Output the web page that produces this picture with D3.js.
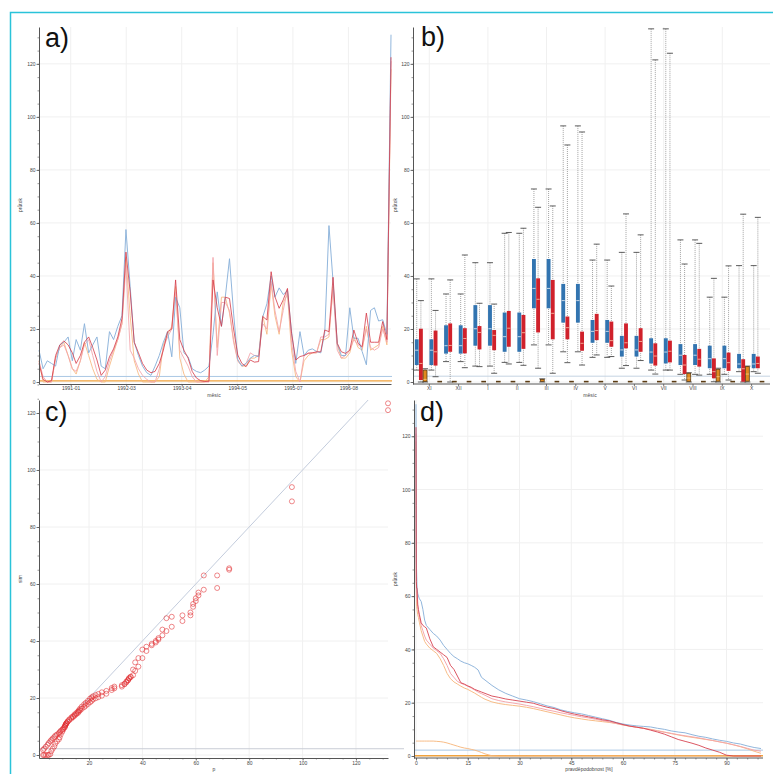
<!DOCTYPE html>
<html><head><meta charset="utf-8">
<script src="https://cdn.jsdelivr.net/npm/d3@7/dist/d3.min.js"></script>
<style>
html,body{margin:0;padding:0;background:#fff;}
svg{display:block;}
text{font-family:"Liberation Sans",Arial,sans-serif;}
</style></head><body>
<svg id="chart" width="773" height="774"></svg>
<script>
// ================= DATA =================
// panel a: monthly series starting 1990-06
const aStartMonth = "1990-06-01";
const aTickDates = ["1991-01-20","1992-03-03","1993-04-15","1994-05-28","1995-07-11","1996-08-22"];
const aObs = [12,5,8,7,6,14,15,17,8,16, 12,22,11,14,17,6,5,19,16,21, 25,57.5,36,15,10,6,3.5,2.5,6,10,
  15,19,9.5,32,28,11,9.5,5,4,3.5, 4.5,6,18,34,21,32,46.5,26,8.5,6, 7,9,10,9.5,24.5,29.5,40,32,35.5,33,
  34.5,19,7,19,10,12,12.5,11.5,11,18.5, 59,38,14.5,10,10,28,16.5,16.5,11.5,6.5, 27,28,23,23.5,18,131];
const aSim1 = [7,1,0,0.5,10,14,15.5,14,11,7, 10,15,17,13,8.3,2.5,4.5,9.5,12.5,17, 24,49,34,15,11,7,4.5,3.5,4,7,
  12,19,20,38.5,16,12,9,4,1.5,0.5, 0.2,0.3,38.5,28,21,32,31.5,20,10.2,7, 5.8,8.3,7.5,7.7,24.7,23.4,41.6,32.2,27.8,31,
  35.3,18.4,8.3,9.6,10,10.8,11,11.4,11.4,19.6, 19,39.5,14.6,11.4,10.8,12,19.6,14.6,13.3,26, 15,15,15,22.8,16,122.5];
const aSim2 = [8,2,0,0,9,13,14,10,5,4, 8,14,16,10,4,0,2,8,12,16, 22,44,12,9,5,2.5,1,0,0,5,
  13,17,20,34,12,9,6,2,0,0, 0,0,47,10,30,30,27,15,8,6, 7,11,10,10,22,20,38,27,19,27,
  35,15,4,0,10,11,11,11,17,17, 18,35,12,9,10,12,16,14,13,20, 13,12,13,20,15,121];
const aSim3 = [8,0,0,0,9,13,15,10,5,3, 8,15,10,5,1,0,0,6,11,16, 22,47,25,8,3,0,0,0,0,2,
  14,18,21,36,9,3,0,0,0,0, 0,2,45,13,32,32,26,16,8,6, 6,9,9,10,25,18,37,25,18,30,
  33,12,2,0,8,10,11,11,16,16, 17,36,14,9,9,11,17,13,12,21, 12,13,14,21,14,118];
const refLevel = 2.1;
const lowLevel = 0.4;

// panel b: box statistics [low whisker, q1, median, q3, high whisker]
const bMonths = ["XI","XII","I","II","III","IV","V","VI","VII","VIII","IX","X"];
const bObs = [[4.5,6.4,12,16.1,38.9],[7.7,10.7,13.7,21.4,33.2],[6,13.7,20.1,29,45],[7.4,11.4,17.1,26.2,56.1],
  [14,27.8,35.3,46.4,72.8],[11.4,22.4,30.7,37,96.6],[9.3,14.8,19.1,23.4,46],[5.2,9.6,12.1,17.4,48.9],
  [4.5,7,11.3,16.5,133.2],[2.9,6.4,10.1,14.3,53.6],[2.9,5.2,8.8,13.7,32],[3.9,5.2,6.8,10.6,43.9]];
const bSim1 = [[0,0.75,7,20.1,30.7],[0,11.4,13.8,22.1,38.5],[5.8,12.3,18.7,21.1,29.7],[6.8,13.3,20.3,26.8,56.4],
  [5.2,18.7,31.2,39.1,65.9],[7.3,16.1,20.5,24.7,89.4],[10.2,15.8,19.4,25.7,52],[6.2,12.7,14.8,22.1,63.4],
  [3,6.2,9.8,14.6,121.5],[0.75,3,6.4,10.2,44.5],[0.1,1.4,3.9,8.9,39.1],[0,0.1,5,8.6,63.3]];
const bSim2 = [[2,6.2,11.4,19.4,27],[5.4,10.8,16.4,20.3,47.9],[3.3,12,17.6,19.6,29.4],[6.3,12.5,18.6,25.3,58],
  [3.3,16.1,25.9,38.5,66.4],[6.4,11.8,14.6,19,94.3],[9.6,13.3,15.6,22.8,36.2],[8.1,11.4,15.3,20.3,55.5],
  [4.5,7.4,11.6,15.6,124],[2.6,5.8,8.6,12.5,52.3],[0.75,4.2,7.3,11.1,43.8],[3.3,5.2,7,9.6,62.1]];
const bLow1 = [[0,0.2,1,4.5,5],[0,0,0,0.3,0.5],[0,0,0,0.3,0.5],[0,0,0,0.3,0.5],[0,0.2,0.5,1,1.2],[0,0,0,0.3,0.5],
  [0,0,0,0.3,0.5],[0,0,0,0.3,0.5],[0,0,0,0.3,0.5],[0,0.2,1.5,3.3,3.5],[0,0.3,2,4.8,5.2],[0,0.3,3,5.8,6]];
const bLow2 = [[0,0,0,0.3,0.5],[0,0,0,0.3,0.5],[0,0,0,0.3,0.5],[0,0,0,0.3,0.5],[0,0,0,0.3,0.5],[0,0,0,0.3,0.5],
  [0,0,0,0.3,0.5],[0,0,0,0.3,0.5],[0,0,0,0.3,0.5],[0,0,0,0.3,0.5],[0,0,0,0.3,0.5],[0,0,0,0.3,0.5]];

// panel d: duration curves (exceedance probability %, value); panel c uses the same quantiles
const dProb = [0,0.05,0.1,0.2,0.3,0.5,0.7,1,1.5,2, 2.5,3,4,5,6,7,8,9,10,11, 12,13,14,15,16,17,18,19,20,22,
  24,26,28,30,32,34,36,38,40,42, 44,46,48,50,52,54,56,58,60,62, 64,66,68,70,72,74,76,78,80,82, 84,86,88,90,92,94,96,98,100];
const dObs = [132,96,72.5,68,63,61,60,59,58,55, 51,49,47.5,46,45,43.5,41.5,40,38.5,37.3, 36.5,35.6,35,34.6,34,33.3,32.3,29.5,28.5,26.5,
  24.8,23.5,22.5,21.5,21,20.4,19.6,18.8,18.2,17.3, 16.7,16.2,15.8,15.2,14.6,14,13.4,12.6,12,11.6, 11.3,11.1,10.9,10.4,10,9.4,9,8.7,8,7.4, 7,6.4,5.9,5.5,4.9,4.5,3.8,3.2,2.8];
const dSim1 = [123.4,94,65.5,63,63,57,55,53,50,49, 48.5,48,44,41,40,39,38,37,34,32.5, 30,27.5,27,26.3,25.8,25,24.5,24,23.5,22.5,
  22,21.4,21,20.6,20.2,19.8,19,18.3,17.8,17, 16.3,15.7,15.2,14.7,14.2,13.6,13.2,12.5,11.8,11.2, 10.8,10.4,9.7,9,8.2,7.2,6.2,5.5,4.8,4, 3,2.2,1.4,0.3,0,0,0,0,0];
const dSim2 = [121,89,65,58.6,58,56,54,52,49,47, 45,43.5,42,40.5,39.5,38.5,36.5,34,31,29.5, 28,27.3,26.8,26.2,25.5,24.8,24,23.4,22.8,21.5,
  20.8,20.3,19.9,19.5,19,18.5,17.9,17.3,16.8,16.2, 15.7,15.2,14.7,14.3,13.8,13.3,12.8,12.2,11.7,11.2, 10.8,10.3,9.9,9.4,8.9,8.5,8,7.6,7.2,6.8, 6.3,5.8,5.3,4.8,4.2,3.6,2.9,2.2,1.8];
const dSim3 = [118,85,62,56,55,53,52,50,47,45, 43,42,40.5,39.5,38.5,36.5,34,31,29,27.8, 27,26.2,25.5,25,24.3,23.6,22.8,22,21.3,20.3,
  19.7,19.3,19,18.7,18.3,17.8,17.2,16.6,16,15.4, 14.8,14.3,13.9,13.5,13.2,12.9,12.6,12.2,11.6,11.2, 10.8,10.4,10,9.5,9,8.4,7.9,7.4,7,6.6, 6.2,5.8,5.3,4.8,4.2,3.5,2.7,1.8,1];
const dLow = [5.6,5.6,5.6,5.6,5.6,5.6,5.6,5.6,5.6,5.6, 5.6,5.6,5.6,5.6,5.5,5.4,5.2,4.9,4.5,4.1, 3.7,3.3,3.0,2.8,2.5,2.2,1.8,1.3,0.8,0.1,
  0,0,0,0,0,0,0,0,0,0, 0,0,0,0,0,0,0,0,0,0, 0,0,0,0,0,0,0,0,0,0, 0,0,0,0,0,0,0,0,0];

const yTicks = [0,20,40,60,80,100,120];
const cXTicks = [20,40,60,80,100,120];
const dXTicks = [0,15,30,45,60,75,90];

// ================= STYLE =================
const C = {blue:"#8bb2da", red:"#d53a48", pink:"#f3a3aa", orange:"#f7b880", orangeLine:"#f0a23c",
  ref:"#a9c7e4", grid:"#f0f0f0", axis:"#555", text:"#444",
  boxBlue:"#3274b0", boxRed:"#d0212b", boxOrange:"#e0891e"};
const FS = 5;

const svg = d3.select("#chart");
svg.append("rect").attr("x",10.5).attr("y",12.5).attr("width",800).attr("height",800)
  .attr("fill","none").attr("stroke","#2ac3d9").attr("stroke-width",1.5);

function styleAxis(g){
  g.select("path.domain").attr("stroke",C.axis).attr("stroke-width",1);
  g.selectAll(".tick line").attr("stroke",C.axis).attr("stroke-width",0.8);
  g.selectAll(".tick text").attr("font-size",FS).attr("fill",C.text)
    .attr("font-family","'Liberation Sans',Arial,sans-serif");
}
function minorY(g, y, x0){
  g.append("g").attr("transform",`translate(${x0},0)`)
    .call(d3.axisLeft(y).tickValues(d3.range(0,131,5)).tickSize(1.5).tickFormat("").tickSizeOuter(0))
    .call(s=>{s.select("path.domain").remove(); s.selectAll("line").attr("stroke",C.axis).attr("stroke-width",0.6);});
}
function minorX(g, x, y0, vals){
  g.append("g").attr("transform",`translate(0,${y0})`)
    .call(d3.axisBottom(x).tickValues(vals).tickSize(1.5).tickFormat("").tickSizeOuter(0))
    .call(s=>{s.select("path.domain").remove(); s.selectAll("line").attr("stroke",C.axis).attr("stroke-width",0.6);});
}
function yGrid(g, y, x0, x1){
  g.append("g").selectAll("line").data(yTicks).join("line")
    .attr("x1",x0).attr("x2",x1).attr("y1",d=>y(d)).attr("y2",d=>y(d))
    .attr("stroke",C.grid).attr("stroke-width",1);
}
function title(txt,x,y){
  svg.append("text").attr("x",x).attr("y",y).attr("font-size",27).attr("fill","#111").text(txt);
}
function vLabel(txt,x,y){
  svg.append("text").attr("transform",`translate(${x},${y}) rotate(-90)`).attr("text-anchor","middle")
    .attr("font-size",FS).attr("fill",C.text).text(txt);
}
function hLabel(txt,x,y){
  svg.append("text").attr("x",x).attr("y",y).attr("text-anchor","middle")
    .attr("font-size",FS).attr("fill",C.text).text(txt);
}

// ================= PANEL A =================
{
  const g = svg.append("g");
  const start = d3.utcParse("%Y-%m-%d")(aStartMonth);
  const dates = aObs.map((_,i)=>d3.utcMonth.offset(start,i));
  const ticks = aTickDates.map(d3.utcParse("%Y-%m-%d"));
  const x = d3.scaleUtc().domain([start, d3.utcMonth.offset(start, aObs.length-1)]).range([39,391]);
  const y = d3.scaleLinear().domain([-0.75,133.9]).range([384,27]);
  yGrid(g,y,39,391);
  g.append("g").selectAll("line").data(ticks).join("line")
    .attr("x1",d=>x(d)).attr("x2",d=>x(d)).attr("y1",27).attr("y2",384).attr("stroke",C.grid);
  g.append("line").attr("x1",39).attr("x2",392).attr("y1",y(refLevel)).attr("y2",y(refLevel)).attr("stroke",C.ref).attr("stroke-width",1);
  g.append("line").attr("x1",39).attr("x2",392).attr("y1",y(lowLevel)).attr("y2",y(lowLevel)).attr("stroke",C.orangeLine).attr("stroke-width",1.2);
  const line = d3.line().x((d,i)=>x(dates[i])).y(d=>y(d));
  [[aSim3,C.orange,0.9],[aSim2,C.pink,0.9],[aObs,C.blue,1],[aSim1,C.red,0.85]].forEach(([s,c,o])=>{
    g.append("path").datum(s).attr("d",line).attr("fill","none").attr("stroke",c).attr("stroke-opacity",o)
      .attr("stroke-width",0.95).attr("stroke-linejoin","round");
  });
  g.append("g").attr("transform","translate(39,0)")
    .call(d3.axisLeft(y).tickValues(yTicks).tickSize(2.5).tickPadding(1).tickSizeOuter(0)).call(styleAxis);
  minorY(g,y,39);
  g.append("g").attr("transform","translate(0,384)")
    .call(d3.axisBottom(x).tickValues(ticks).tickFormat(d3.utcFormat("%Y-%m")).tickSize(2).tickPadding(0.5).tickSizeOuter(0)).call(styleAxis);
  title("a)",45,47);
  vLabel("průtok",22,205);
  hLabel("měsíc",214,397);
}

// ================= PANEL B =================
{
  const g = svg.append("g");
  const x = d3.scaleBand().domain(bMonths).range([414.65,766.25]).padding(0);
  const xg = d3.scaleBand().domain([0,1]).range([0,x.bandwidth()]);
  const xs = d3.scaleBand().domain(["obs","sim","low"]).range([0,12.5]);
  const y = d3.scaleLinear().domain([-0.75,133.9]).range([384,27]);
  yGrid(g,y,413,770);
  g.append("g").selectAll("line").data(bMonths.filter((d,i)=>i%2===0)).join("line")
    .attr("x1",d=>x(d)+x.bandwidth()/2).attr("x2",d=>x(d)+x.bandwidth()/2).attr("y1",27).attr("y2",384).attr("stroke",C.grid);
  g.append("line").attr("x1",413).attr("x2",770).attr("y1",y(2.2)).attr("y2",y(2.2)).attr("stroke","#c4d3e2").attr("stroke-width",1);
  const groups = [{obs:bObs, sim:bSim1, low:bLow1},{obs:bObs, sim:bSim2, low:bLow2}];
  const style = {obs:{fill:C.boxBlue, med:"#d6e2ee", stroke:"none"},
                 sim:{fill:C.boxRed, med:"#f6b49c", stroke:"none"},
                 low:{fill:C.boxOrange, med:"#f4c27c", stroke:"#5b3c14"}};
  const items = [];
  bMonths.forEach((m,mi)=>[0,1].forEach(gi=>["obs","sim","low"].forEach(s=>{
    items.push({m, gi, s, st: groups[gi][s][mi]});
  })));
  const w = xs.bandwidth();
  const cx = d => x(d.m)+xg(d.gi)+xs(d.s)+w/2;
  const whisk = items.filter(d=>d.st[4]-d.st[0]>0.8);
  g.append("g").selectAll("line").data(whisk).join("line")
    .attr("x1",cx).attr("x2",cx).attr("y1",d=>y(d.st[4])).attr("y2",d=>y(d.st[0]))
    .attr("stroke","#8c8c8c").attr("stroke-width",0.8).attr("stroke-dasharray","1,1");
  g.append("g").selectAll("line").data(whisk.flatMap(d=>[[d,d.st[4]],[d,d.st[0]]])).join("line")
    .attr("x1",d=>cx(d[0])-3).attr("x2",d=>cx(d[0])+3).attr("y1",d=>y(d[1])).attr("y2",d=>y(d[1]))
    .attr("stroke","#4a4a4a").attr("stroke-width",0.9);
  g.append("g").selectAll("rect").data(items).join("rect")
    .attr("x",d=>cx(d)-w/2+0.15).attr("width",w-0.3)
    .attr("y",d=>y(d.st[3])).attr("height",d=>Math.max(0.6,y(d.st[1])-y(d.st[3])))
    .attr("fill",d=>style[d.s].fill).attr("stroke",d=>style[d.s].stroke).attr("stroke-width",0.8);
  g.append("g").selectAll("line").data(items.filter(d=>d.st[3]-d.st[1]>1)).join("line")
    .attr("x1",d=>cx(d)-w/2+0.5).attr("x2",d=>cx(d)+w/2-0.5).attr("y1",d=>y(d.st[2])).attr("y2",d=>y(d.st[2]))
    .attr("stroke",d=>style[d.s].med).attr("stroke-width",0.9);
  g.append("g").attr("transform","translate(413,0)")
    .call(d3.axisLeft(y).tickValues(yTicks).tickSize(2.5).tickPadding(1).tickSizeOuter(0)).call(styleAxis);
  minorY(g,y,413);
  g.append("g").attr("transform","translate(0,384)")
    .call(d3.axisBottom(x).tickSize(2).tickPadding(0.5).tickSizeOuter(0)).call(styleAxis)
    .call(s=>s.select("path.domain").attr("d","M413,0H770"));
  title("b)",421,46);
  vLabel("průtok",397,205);
  hLabel("měsíc",590,397);
}

// ================= PANEL C =================
{
  const g = svg.append("g");
  const x = d3.scaleLinear().domain([1.27,132]).range([39,388]);
  const y = d3.scaleLinear().domain([-1.05,124.56]).range([758,400]);
  yGrid(g,y,39,388);
  g.append("g").selectAll("line").data(cXTicks).join("line")
    .attr("x1",d=>x(d)).attr("x2",d=>x(d)).attr("y1",400).attr("y2",758).attr("stroke",C.grid);
  g.append("line").attr("x1",39).attr("x2",404).attr("y1",y(2.2)).attr("y2",y(2.2)).attr("stroke","#c8ccd6").attr("stroke-width",1);
  g.append("line").attr("x1",x(1.27)).attr("y1",y(1.27)).attr("x2",x(124.56)).attr("y2",y(124.56))
    .attr("stroke","#bcc6d8").attr("stroke-width",0.9);
  const pts = [];
  dProb.forEach((p,i)=>{ pts.push([dObs[i],dSim1[i]]); pts.push([dObs[i],dSim2[i]]); });
  g.append("g").selectAll("circle").data(pts).join("circle")
    .attr("cx",d=>x(d[0])).attr("cy",d=>y(d[1])).attr("r",2.5)
    .attr("fill","none").attr("stroke","#e0282c").attr("stroke-width",1).attr("stroke-opacity",0.55);
  g.append("g").attr("transform","translate(39,0)")
    .call(d3.axisLeft(y).tickValues(yTicks).tickSize(2.5).tickPadding(1).tickSizeOuter(0)).call(styleAxis);
  minorY(g,y,39);
  g.append("g").attr("transform","translate(0,758)")
    .call(d3.axisBottom(x).tickValues(cXTicks).tickSize(2.5).tickPadding(1).tickSizeOuter(0)).call(styleAxis);
  minorX(g,x,758,d3.range(5,131,5));
  title("c)",45,421);
  vLabel("sim",22,579);
  hLabel("p",214,771);
}

// ================= PANEL D =================
{
  const g = svg.append("g");
  const x = d3.scaleLinear().domain([0,100]).range([416,761]);
  const y = d3.scaleLinear().domain([-0.75,133.6]).range([758,400]);
  yGrid(g,y,414,763);
  g.append("g").selectAll("line").data(dXTicks).join("line")
    .attr("x1",d=>x(d)).attr("x2",d=>x(d)).attr("y1",400).attr("y2",758).attr("stroke",C.grid);
  g.append("line").attr("x1",414).attr("x2",763).attr("y1",y(2.2)).attr("y2",y(2.2)).attr("stroke",C.ref).attr("stroke-width",1);
  g.append("line").attr("x1",414).attr("x2",763).attr("y1",y(0.1)).attr("y2",y(0.1)).attr("stroke",C.orangeLine).attr("stroke-width",1.3);
  const line = d3.line().x((d,i)=>x(dProb[i])).y(d=>y(d));
  [[dLow,C.orange,1],[dSim3,C.orange,1],[dSim2,C.pink,1],[dObs,C.blue,1],[dSim1,C.red,0.9]].forEach(([s,c,o])=>{
    g.append("path").datum(s).attr("d",line).attr("fill","none").attr("stroke",c).attr("stroke-opacity",o)
      .attr("stroke-width",0.95).attr("stroke-linejoin","round");
  });
  g.append("g").attr("transform","translate(414,0)")
    .call(d3.axisLeft(y).tickValues(yTicks).tickSize(2.5).tickPadding(1).tickSizeOuter(0)).call(styleAxis);
  minorY(g,y,414);
  g.append("g").attr("transform","translate(0,758)")
    .call(d3.axisBottom(x).tickValues(dXTicks).tickSize(2.5).tickPadding(1).tickSizeOuter(0)).call(styleAxis)
    .call(s=>s.select("path.domain").attr("d","M414,0H763"));
  minorX(g,x,758,d3.range(0,100,3));
  title("d)",420,421);
  vLabel("průtok",397,579);
  hLabel("pravděpodobnost [%]",589,771);
}
</script>
</body></html>
